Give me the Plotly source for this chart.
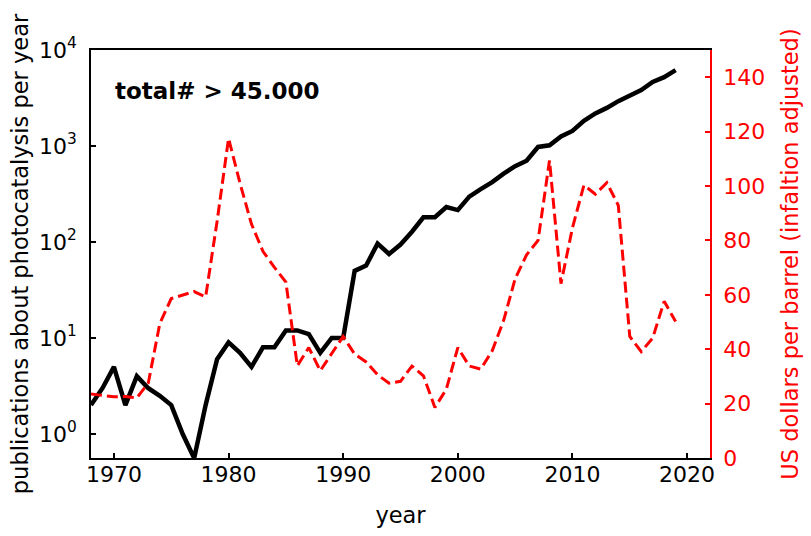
import plotly.graph_objects as go

# Years covered by both series
years = list(range(1968, 2020))

# Publications about photocatalysis per year (log scale, left axis)
publications = [
    2, 3, 5, 2, 4, 3, 2.5, 2, 1, 0.56,
    2, 6, 9, 7, 5, 8, 8, 12, 12, 11,
    7, 10, 10, 50, 57, 96, 75, 94, 128, 181,
    181, 231, 215, 297, 355, 420, 516, 617, 703, 977,
    1016, 1259, 1435, 1833, 2188, 2494, 2931, 3388, 3829, 4645,
    5212, 6166,
]

# Crude oil price, US dollars per barrel, inflation adjusted (right axis)
oil_price = [
    23.5, 23.0, 22.5, 22.6, 22.1, 27.6, 49.4, 58.6, 60.0, 61.2,
    59.2, 87.0, 117.5, 101.0, 86.0, 76.0, 70.1, 64.7, 33.9, 40.6,
    32.1, 38.2, 44.7, 38.2, 35.3, 30.6, 27.5, 28.2, 33.8, 30.2,
    18.6, 25.3, 40.6, 33.8, 32.7, 39.4, 50.6, 65.9, 74.7, 80.0,
    109.4, 64.1, 84.6, 100.3, 97.0, 101.2, 92.9, 44.7, 39.1, 44.1,
    57.6, 50.2,
]

x_ticks = [1970, 1980, 1990, 2000, 2010, 2020]
pub_ticks = [1, 10, 100, 1000, 10000]
pub_tick_text = ["10<sup>0</sup>", "10<sup>1</sup>", "10<sup>2</sup>",
                 "10<sup>3</sup>", "10<sup>4</sup>"]
price_ticks = [0, 20, 40, 60, 80, 100, 120, 140]

FONT = "DejaVu Sans"
RED = "#ff0000"

fig = go.Figure()
fig.add_trace(go.Scatter(
    x=years, y=publications, mode="lines",
    line=dict(color="black", width=4.5),
    yaxis="y", showlegend=False,
))
fig.add_trace(go.Scatter(
    x=years, y=oil_price, mode="lines",
    line=dict(color=RED, width=3, dash="11px,5px"),
    yaxis="y2", showlegend=False,
))

fig.add_annotation(
    text="<b>total# &gt; 45.000</b>",
    xref="paper", yref="paper", x=0.036, y=0.899,
    xanchor="left", yanchor="middle", showarrow=False,
    font=dict(family=FONT, size=23, color="black"),
)

fig.update_layout(
    width=811, height=536,
    margin=dict(l=91, r=83, t=50, b=61),
    paper_bgcolor="white", plot_bgcolor="white",
    font=dict(family=FONT, size=22, color="black"),
    xaxis=dict(
        range=[1968, 2022], tickvals=x_ticks,
        ticks="inside", ticklen=5, tickwidth=1.5, tickcolor="black",
        showline=True, linecolor="black", linewidth=1.6, mirror=True,
        showgrid=False, zeroline=False,
        tickfont=dict(family=FONT, size=22, color="black"),
        ticklabelstandoff=-4,
        title=dict(text="year", standoff=21,
                   font=dict(family=FONT, size=22.5, color="black")),
    ),
    yaxis=dict(
        type="log", range=[-0.25, 4],
        tickvals=pub_ticks, ticktext=pub_tick_text,
        ticks="inside", ticklen=5, tickwidth=1.5, tickcolor="black",
        showline=True, linecolor="black", linewidth=1.6,
        showgrid=False, zeroline=False,
        tickfont=dict(family=FONT, size=22, color="black"),
        ticklabelstandoff=8,
        title=dict(text="publications about photocatalysis per year", standoff=4,
                   font=dict(family=FONT, size=22.5, color="black")),
    ),
    yaxis2=dict(
        overlaying="y", side="right", range=[0, 150], tickvals=price_ticks,
        ticks="inside", ticklen=5, tickwidth=1.5, tickcolor=RED,
        showline=True, linecolor=RED, linewidth=1.6,
        showgrid=False, zeroline=False,
        tickfont=dict(family=FONT, size=22, color=RED),
        ticklabelstandoff=7,
        title=dict(text="US dollars per barrel (infaltion adjusted)", standoff=18,
                   font=dict(family=FONT, size=22.5, color=RED)),
    ),
)

fig.write_html("out.html")
